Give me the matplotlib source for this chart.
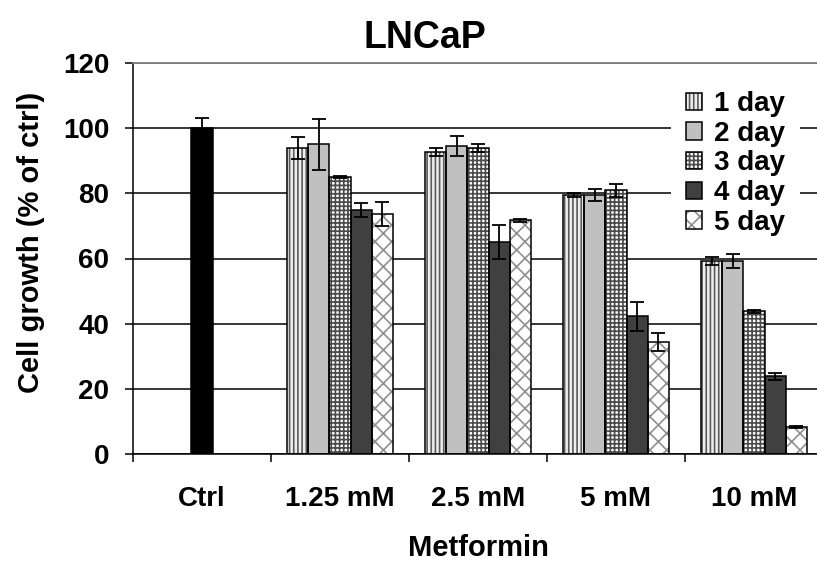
import matplotlib
matplotlib.use('Agg')
import matplotlib.pyplot as plt
import numpy as np
from matplotlib.patches import Patch
from matplotlib.legend_handler import HandlerTuple

# ---- data ----
categories = ['Ctrl', '1.25 mM', '2.5 mM', '5 mM', '10 mM']
ctrl_value = [100.0]
ctrl_err = [3.0]
series_names = ['1 day', '2 day', '3 day', '4 day', '5 day']
day1 = [93.8, 92.7, 79.5, 59.2]
day1_err = [3.4, 1.2, 0.5, 1.2]
day2 = [95.0, 94.5, 79.6, 59.3]
day2_err = [7.8, 3.0, 1.8, 2.2]
day3 = [85.0, 93.8, 80.9, 43.8]
day3_err = [0.3, 1.2, 2.0, 0.5]
day4 = [74.8, 65.0, 42.2, 23.8]
day4_err = [2.2, 5.2, 4.6, 1.0]
day5 = [73.6, 71.7, 34.3, 8.2]
day5_err = [3.7, 0.5, 2.7, 0.3]
yticks = [0, 20, 40, 60, 80, 100, 120]

series = [day1, day2, day3, day4, day5]
series_err = [day1_err, day2_err, day3_err, day4_err, day5_err]

# ---- style ----
plt.rcParams['font.family'] = ['Liberation Sans', 'DejaVu Sans']
plt.rcParams['font.weight'] = 'bold'
plt.rcParams['hatch.linewidth'] = 1.2

styles = [
    dict(fc='#eeeeee', hatch='||||', hc='#5a5a5a'),
    dict(fc='#c0c0c0', hatch=None, hc='#c0c0c0'),
    dict(fc='white', hatch='++++', hc='#4a4a4a'),
    dict(fc='#404040', hatch=None, hc='#404040'),
    dict(fc='white', hatch='xx', hc='#909090'),
]

fig = plt.figure(figsize=(8.17, 5.65), dpi=100)
ax = fig.add_axes([133 / 817, 111 / 565, 690 / 817, 391 / 565])

w = 0.153
x_ctrl = np.array([0])
ax.bar(x_ctrl, ctrl_value, w, color='black', edgecolor='black', linewidth=1.1, zorder=3)
ax.errorbar(x_ctrl, ctrl_value, yerr=ctrl_err, fmt='none', ecolor='black',
            elinewidth=1.3, capsize=5, capthick=1.3, zorder=4)

xg = np.arange(1, len(categories))
handles = []
for j, (vals, errs, st) in enumerate(zip(series, series_err, styles)):
    xs = xg + (j - 2) * w
    ax.bar(xs, vals, w, color=st['fc'], hatch=st['hatch'], edgecolor=st['hc'],
           linewidth=0, zorder=2)
    ax.bar(xs, vals, w, fill=False, edgecolor='black', linewidth=1.1, zorder=3)
    ax.errorbar(xs, vals, yerr=errs, fmt='none', ecolor='black',
                elinewidth=1.3, capsize=5, capthick=1.3, zorder=4)
    handles.append((Patch(facecolor=st['fc'], hatch=st['hatch'], edgecolor=st['hc'], linewidth=0),
                    Patch(fill=False, edgecolor='black', linewidth=1.1)))

ax.set_xlim(-0.5, len(categories) - 0.5)
ax.set_ylim(0, 120)
ax.set_yticks(yticks)
ax.set_yticklabels([str(v) for v in yticks])
ax.tick_params(axis='y', length=6, width=1.1, pad=11, labelsize=20, direction='out')

ax.set_xticks(np.arange(-0.5, len(categories) - 0.5, 1.0))
ax.set_xticklabels([])
ax.tick_params(axis='x', which='major', length=6, width=1.1, direction='out')
ax.set_xticks(np.arange(len(categories)), minor=True)
ax.set_xticklabels(categories, minor=True)
ax.tick_params(axis='x', which='minor', length=0, pad=23, labelsize=20)

ax.yaxis.grid(True, color='black', linewidth=1.1)
ax.set_axisbelow(True)

for s in ['left', 'bottom']:
    ax.spines[s].set_linewidth(1.1)
    ax.spines[s].set_color('black')
ax.spines['top'].set_color('#808080')
ax.spines['top'].set_linewidth(1.3)
ax.spines['top'].set_zorder(5)
ax.spines['right'].set_visible(False)

ax.set_title('LNCaP', fontsize=27, fontweight='bold', x=0.423, pad=11)
ax.set_xlabel('Metformin', fontsize=21, fontweight='bold', labelpad=16)
ax.set_ylabel('Cell growth (% of ctrl)', fontsize=21, fontweight='bold')
ax.yaxis.set_label_coords(-0.128, 0.542)

leg = ax.legend(handles, series_names, handler_map={tuple: HandlerTuple(ndivide=1)},
                loc='upper left', bbox_to_anchor=(671 / 817, 1 - 76 / 565),
                bbox_transform=fig.transFigure, borderaxespad=0, borderpad=0.55,
                handlelength=0.58, handleheight=0.58, handletextpad=0.42,
                labelspacing=0.13, fontsize=20, frameon=True, fancybox=False,
                framealpha=1, facecolor='white', edgecolor='none')
leg.set_zorder(6)

fig.savefig('out.png', dpi=100)
